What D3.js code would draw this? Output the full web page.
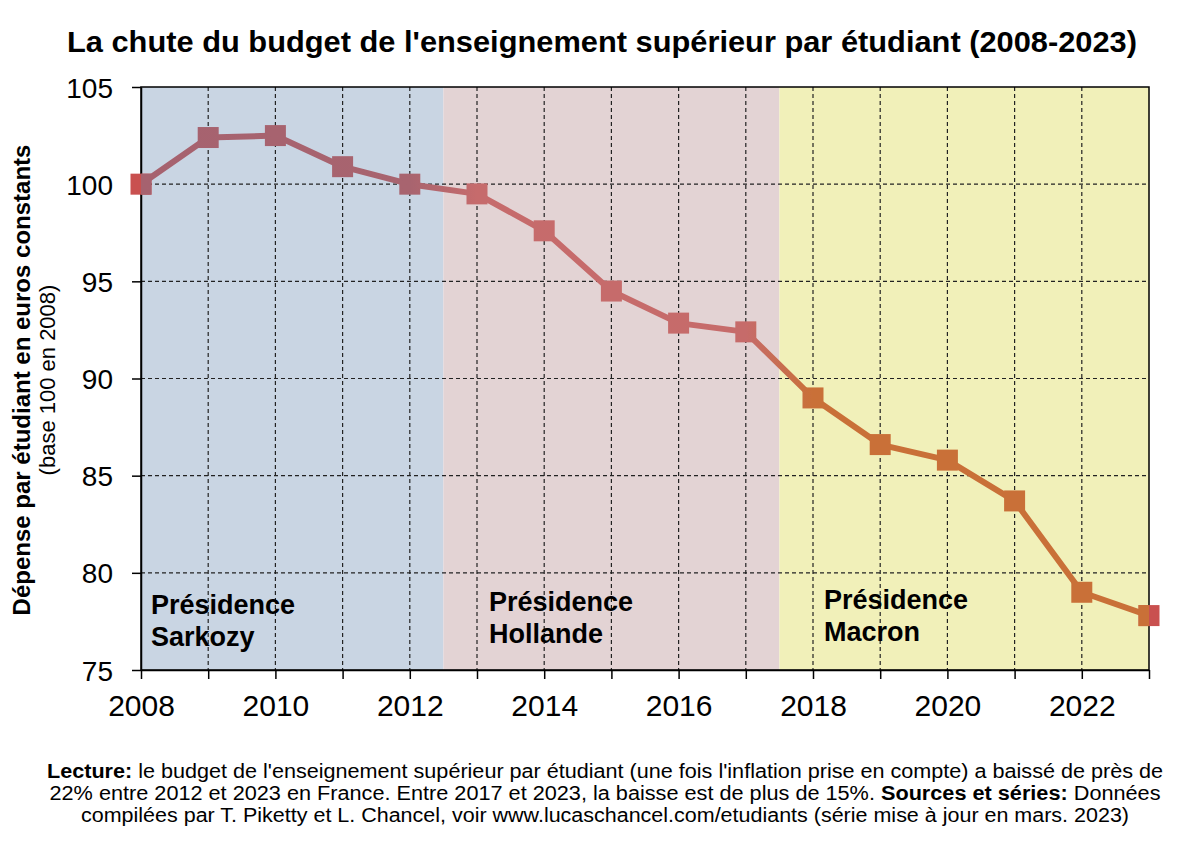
<!DOCTYPE html>
<html>
<head>
	<meta charset="utf-8">
	<title>Budget enseignement supérieur par étudiant</title>
	<script src="https://cdnjs.cloudflare.com/ajax/libs/d3/7.8.5/d3.min.js"></script>
	<style>
		body { margin: 0; background: white; }
		text { font-family: "Liberation Sans", Arial, sans-serif; fill: black; }
		.grid line { stroke: #222; stroke-dasharray: 4,3; stroke-width: 1.2; }
		.axis path, .axis line { stroke: black; stroke-width: 1.5; fill: none; }
		.axis text { font-family: "Liberation Sans", Arial, sans-serif; }
		.xaxis text { font-size: 30px; }
		.yaxis text { font-size: 28px; }
	</style>
</head>
<body>
<svg id="main" width="1200" height="841"></svg>
<script>

	// data
	var years = [2008, 2009, 2010, 2011, 2012, 2013, 2014, 2015, 2016, 2017, 2018, 2019, 2020, 2021, 2022, 2023];
	var values = [100, 102.4, 102.5, 100.9, 100, 99.5, 97.6, 94.5, 92.85, 92.4, 89.0, 86.6, 85.8, 83.7, 79.0, 77.8];

	var presidencies = ["Sarkozy", "Hollande", "Macron"];
	var periodStart = [2008, 2012.5, 2017.5];
	var periodEnd = [2012.5, 2017.5, 2023];
	var periodColor = ["#c9d5e3", "#e3d3d4", "#f1f0b9"];

	var yTicks = [75, 80, 85, 90, 95, 100, 105];
	var xTicks = [2008, 2010, 2012, 2014, 2016, 2018, 2020, 2022];

	var LEFT = 141, RIGHT = 1149, TOP = 87, BOTTOM = 670;
	var MARK = 21;

	var svg = d3.select('#main');

	var x = d3.scaleLinear().domain([2008, 2023]).range([LEFT, RIGHT]);
	var y = d3.scaleLinear().domain([75, 105]).range([BOTTOM, TOP]);

	// title
	svg.append('text')
		.attr('x', 602).attr('y', 52)
		.attr('text-anchor', 'middle')
		.style('font-size', '29px').style('font-weight', 'bold')
		.attr('textLength', 1070).attr('lengthAdjust', 'spacingAndGlyphs')
		.text("La chute du budget de l'enseignement supérieur par étudiant (2008-2023)");

	var defs = svg.append('defs');
	defs.append('clipPath').attr('id', 'plot')
		.append('rect')
		.attr('x', LEFT).attr('y', TOP)
		.attr('width', RIGHT - LEFT).attr('height', BOTTOM - TOP);

	var grad = defs.append('linearGradient')
		.attr('id', 'lineGrad')
		.attr('gradientUnits', 'userSpaceOnUse')
		.attr('x1', x(2008)).attr('x2', x(2023))
		.attr('y1', 0).attr('y2', 0);

	var stops = [[2008, "#a6626f"], [2012, "#a8646f"], [2013, "#c66b6c"], [2017, "#c66b6a"], [2018, "#c97038"], [2023, "#c97038"]];
	stops.forEach(function(s) {
		grad.append('stop')
			.attr('offset', (s[0] - 2008) / 15)
			.attr('stop-color', s[1]);
	});

	// presidency backgrounds
	svg.append('g').selectAll('rect').data(presidencies).enter().append('rect')
		.attr('x', function(d, i) { return x(periodStart[i]); })
		.attr('width', function(d, i) { return x(periodEnd[i]) - x(periodStart[i]); })
		.attr('y', TOP)
		.attr('height', BOTTOM - TOP)
		.attr('fill', function(d, i) { return periodColor[i]; });

	// grid
	var grid = svg.append('g').attr('class', 'grid');
	grid.selectAll('.v').data(years.slice(1, -1)).enter().append('line')
		.attr('x1', function(d) { return x(d); })
		.attr('x2', function(d) { return x(d); })
		.attr('y1', TOP).attr('y2', BOTTOM);
	grid.selectAll('.h').data(yTicks.slice(1, -1)).enter().append('line')
		.attr('x1', LEFT).attr('x2', RIGHT)
		.attr('y1', function(d) { return y(d); })
		.attr('y2', function(d) { return y(d); });

	// region labels
	var labelPos = [[151, 614], [489, 611], [824, 609]];
	presidencies.forEach(function(p, i) {
		var t = svg.append('text')
			.attr('x', labelPos[i][0]).attr('y', labelPos[i][1])
			.style('font-size', '27px').style('font-weight', 'bold');
		t.append('tspan').attr('x', labelPos[i][0]).text('Présidence');
		t.append('tspan').attr('x', labelPos[i][0]).attr('dy', 32).text(p);
	});

	// frame
	svg.append('rect')
		.attr('x', LEFT).attr('y', TOP)
		.attr('width', RIGHT - LEFT).attr('height', BOTTOM - TOP)
		.attr('fill', 'none').attr('stroke', 'black').attr('stroke-width', 1.5);

	// axes
	svg.append('g').attr('class', 'axis xaxis')
		.attr('transform', 'translate(0,' + BOTTOM + ')')
		.call(d3.axisBottom(x).tickValues(years).tickSize(9).tickSizeOuter(0)
			.tickFormat(function(d) { return xTicks.indexOf(d) >= 0 ? d : ''; }))
		.selectAll('text').attr('y', 46).attr('dy', 0);

	svg.append('g').attr('class', 'axis yaxis')
		.attr('transform', 'translate(' + LEFT + ',0)')
		.call(d3.axisLeft(y).tickValues(yTicks).tickSize(9).tickSizeOuter(0))
		.selectAll('text').attr('x', -28).attr('dy', '0.36em');

	// end markers in red, behind the series
	var ends = [0, years.length - 1];
	svg.append('g').selectAll('rect').data(ends).enter().append('rect')
		.attr('x', function(i) { return x(years[i]) - MARK / 2; })
		.attr('y', function(i) { return y(values[i]) - MARK / 2; })
		.attr('width', MARK).attr('height', MARK)
		.attr('fill', '#c9504f');

	// series
	var points = years.map(function(yr, i) { return [yr, values[i]]; });
	var series = svg.append('g').attr('clip-path', 'url(#plot)');

	series.append('path')
		.datum(points)
		.attr('d', d3.line().x(function(d) { return x(d[0]); }).y(function(d) { return y(d[1]); }))
		.attr('fill', 'none')
		.attr('stroke', 'url(#lineGrad)')
		.attr('stroke-width', 6)
		.attr('stroke-linejoin', 'round');

	series.selectAll('rect').data(points).enter().append('rect')
		.attr('x', function(d) { return x(d[0]) - MARK / 2; })
		.attr('y', function(d) { return y(d[1]) - MARK / 2; })
		.attr('width', MARK).attr('height', MARK)
		.attr('fill', 'url(#lineGrad)');

	// y axis title
	var yt = svg.append('text')
		.attr('transform', 'translate(30,380) rotate(-90)')
		.attr('text-anchor', 'middle')
		.style('font-size', '24px');
	yt.append('tspan').attr('x', 0).style('font-weight', 'bold')
		.text('Dépense par étudiant en euros constants');
	yt.append('tspan').attr('x', 0).attr('dy', 25).style('font-size', '22px')
		.text('(base 100 en 2008)');

	// footer
	var footer = [
		[["Lecture:", true], [" le budget de l'enseignement supérieur par étudiant (une fois l'inflation prise en compte) a baissé de près de", false]],
		[["22% entre 2012 et 2023 en France. Entre 2017 et 2023, la baisse est de plus de 15%.  ", false], ["Sources et séries:", true], [" Données", false]],
		[["compilées par T. Piketty et L. Chancel, voir www.lucaschancel.com/etudiants (série mise à jour en mars. 2023)", false]]
	];
	var footerWidth = [1116, 1111, 1048];
	footer.forEach(function(line, i) {
		var t = svg.append('text')
			.attr('x', 605).attr('y', 778 + i * 22)
			.attr('text-anchor', 'middle')
			.attr('textLength', footerWidth[i]).attr('lengthAdjust', 'spacingAndGlyphs')
			.style('font-size', '19.5px');
		line.forEach(function(part) {
			t.append('tspan')
				.style('font-weight', part[1] ? 'bold' : 'normal')
				.text(part[0]);
		});
	});

</script>
</body>
</html>
